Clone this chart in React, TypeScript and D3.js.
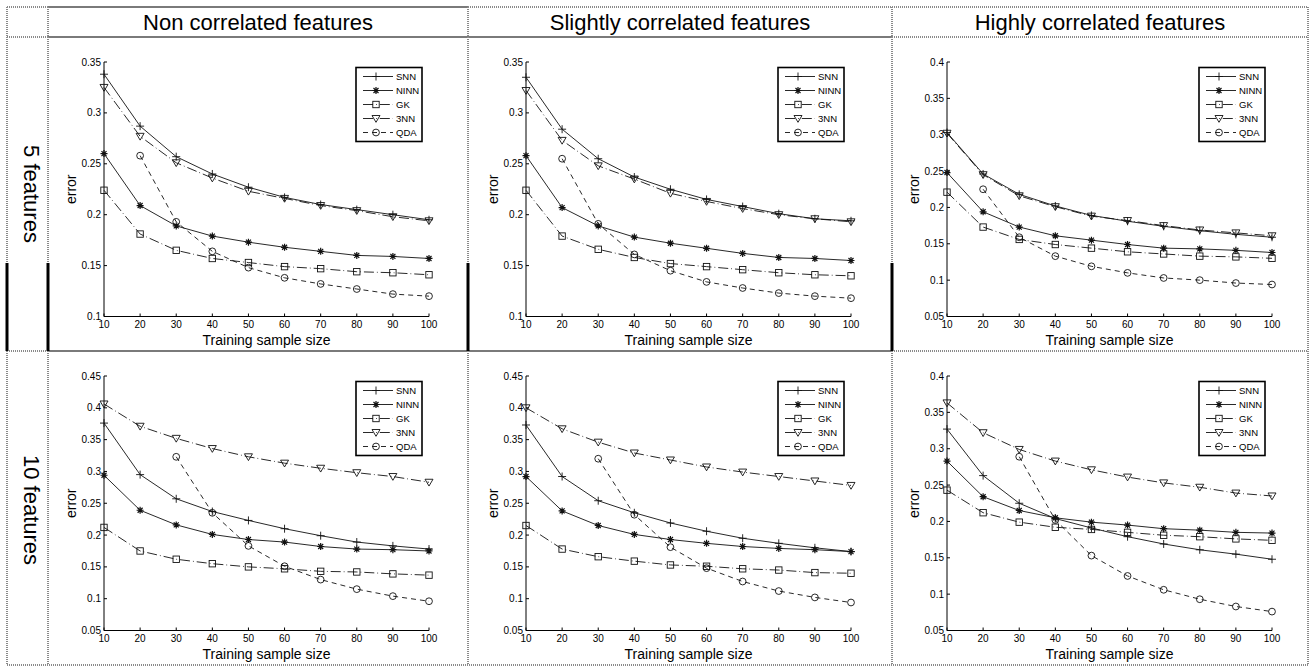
import * as d3 from "d3";
import React, { useEffect } from "react";

// x values shared by every panel
const sampleSizes = [10, 20, 30, 40, 50, 60, 70, 80, 90, 100];
const methods = ["SNN", "NINN", "GK", "3NN", "QDA"];
const columnTitles = ["Non correlated features", "Slightly correlated features", "Highly correlated features"];
const rowTitles = ["5 features", "10 features"];

// error values per panel, rows in the order of `methods`
const err5Non = [
  [0.338, 0.287, 0.257, 0.24, 0.227, 0.217, 0.21, 0.205, 0.2, 0.195],
  [0.26, 0.209, 0.189, 0.179, 0.173, 0.168, 0.164, 0.16, 0.159, 0.157],
  [0.224, 0.181, 0.165, 0.157, 0.153, 0.149, 0.147, 0.144, 0.143, 0.141],
  [0.325, 0.277, 0.251, 0.236, 0.223, 0.216, 0.209, 0.204, 0.198, 0.194],
  [null, 0.258, 0.193, 0.164, 0.148, 0.138, 0.132, 0.127, 0.122, 0.12],
];
const err5Slight = [
  [0.335, 0.284, 0.255, 0.237, 0.225, 0.215, 0.208, 0.201, 0.196, 0.194],
  [0.258, 0.207, 0.189, 0.178, 0.172, 0.167, 0.162, 0.158, 0.157, 0.155],
  [0.224, 0.179, 0.166, 0.158, 0.152, 0.149, 0.146, 0.143, 0.141, 0.14],
  [0.322, 0.273, 0.248, 0.235, 0.221, 0.213, 0.206, 0.2, 0.196, 0.193],
  [null, 0.255, 0.191, 0.161, 0.145, 0.134, 0.128, 0.123, 0.12, 0.118],
];
const err5High = [
  [0.303, 0.246, 0.218, 0.202, 0.189, 0.181, 0.174, 0.168, 0.163, 0.159],
  [0.248, 0.194, 0.173, 0.161, 0.155, 0.149, 0.144, 0.143, 0.141, 0.138],
  [0.221, 0.173, 0.156, 0.149, 0.144, 0.139, 0.136, 0.133, 0.132, 0.13],
  [0.302, 0.245, 0.216, 0.201, 0.188, 0.182, 0.175, 0.169, 0.165, 0.161],
  [null, 0.225, 0.159, 0.133, 0.119, 0.11, 0.103, 0.1, 0.096, 0.094],
];
const err10Non = [
  [0.376, 0.295, 0.257, 0.237, 0.223, 0.21, 0.199, 0.189, 0.183, 0.178],
  [0.294, 0.239, 0.216, 0.201, 0.193, 0.189, 0.182, 0.178, 0.177, 0.175],
  [0.212, 0.175, 0.162, 0.155, 0.15, 0.147, 0.143, 0.142, 0.139, 0.137],
  [0.406, 0.371, 0.352, 0.336, 0.323, 0.313, 0.305, 0.298, 0.292, 0.283],
  [null, null, 0.323, 0.235, 0.183, 0.151, 0.13, 0.115, 0.104, 0.096],
];
const err10Slight = [
  [0.373, 0.292, 0.254, 0.235, 0.219, 0.206, 0.195, 0.187, 0.18, 0.174],
  [0.292, 0.238, 0.215, 0.201, 0.193, 0.187, 0.182, 0.179, 0.177, 0.174],
  [0.215, 0.178, 0.166, 0.159, 0.153, 0.151, 0.147, 0.145, 0.141, 0.14],
  [0.4, 0.367, 0.346, 0.329, 0.318, 0.307, 0.299, 0.292, 0.285, 0.278],
  [null, null, 0.32, 0.232, 0.181, 0.148, 0.127, 0.112, 0.102, 0.094],
];
const err10High = [
  [0.327, 0.263, 0.225, 0.204, 0.191, 0.179, 0.169, 0.161, 0.155, 0.148],
  [0.283, 0.234, 0.215, 0.205, 0.199, 0.195, 0.19, 0.188, 0.185, 0.184],
  [0.243, 0.212, 0.199, 0.192, 0.189, 0.185, 0.181, 0.179, 0.176, 0.174],
  [0.363, 0.322, 0.299, 0.283, 0.271, 0.261, 0.253, 0.247, 0.239, 0.235],
  [null, null, 0.289, 0.202, 0.153, 0.125, 0.106, 0.093, 0.083, 0.076],
];

const panelData = [
  [err5Non, err5Slight, err5High],
  [err10Non, err10Slight, err10High],
];
const yDomains = [
  [[0.1, 0.35], [0.1, 0.35], [0.05, 0.4]],
  [[0.05, 0.45], [0.05, 0.45], [0.05, 0.4]],
];

const FONT = "'Liberation Sans', Arial, sans-serif";
const plotLeft = [104, 526, 947];
const plotTop = [62, 376];
const plotW = 325;
const plotH = 254.5;

const dashes: Record<string, string | undefined> = {
  SNN: undefined,
  NINN: undefined,
  GK: "10,3,0.8,3",
  "3NN": "10,3,0.8,3",
  QDA: "5,4",
};

const fmt = d3.format("~g");

function Marker({ kind, cx, cy }: { kind: string; cx: number; cy: number }) {
  const st = { stroke: "#111", strokeWidth: 0.9, fill: "none" };
  if (kind === "SNN") {
    return <path d={`M${cx - 4},${cy}H${cx + 4}M${cx},${cy - 4}V${cy + 4}`} {...st} />;
  }
  if (kind === "NINN") {
    const a = 3.5, b = 2.5;
    return (
      <path
        d={`M${cx - a},${cy}H${cx + a}M${cx},${cy - a}V${cy + a}M${cx - b},${cy - b}L${cx + b},${cy + b}M${cx - b},${cy + b}L${cx + b},${cy - b}`}
        {...st}
        strokeWidth={1.2}
      />
    );
  }
  if (kind === "GK") return <rect x={cx - 3.2} y={cy - 3.2} width={6.4} height={6.4} {...st} />;
  if (kind === "3NN") {
    return <path d={`M${cx - 4},${cy - 3}L${cx + 4},${cy - 3}L${cx},${cy + 3.8}Z`} {...st} />;
  }
  return <circle cx={cx} cy={cy} r={3.4} {...st} />;
}

function Panel({ row, col }: { row: number; col: number }) {
  const left = plotLeft[col];
  const top = plotTop[row];
  const bottom = top + plotH;
  const right = left + plotW;
  const [lo, hi] = yDomains[row][col];
  const x = d3.scaleLinear().domain([10, 100]).range([left, right]);
  const y = d3.scaleLinear().domain([lo, hi]).range([bottom, top]);
  const yTicks = d3.range(0, Math.round((hi - lo) / 0.05) + 1).map((i) => +(lo + i * 0.05).toFixed(2));
  const series = panelData[row][col];

  const line = d3
    .line<number | null>()
    .defined((d) => d != null)
    .x((_, i) => x(sampleSizes[i]))
    .y((d) => y(d as number));

  const lgX = right - 73;
  const lgY = top + 5.5;

  return (
    <g>
      {/* axes */}
      <line x1={left} y1={top} x2={left} y2={bottom} stroke="#000" strokeWidth={1} />
      <line x1={left} y1={bottom} x2={right} y2={bottom} stroke="#000" strokeWidth={1} />
      {yTicks.map((t) => (
        <g key={t}>
          <line x1={left} x2={left + 3} y1={y(t)} y2={y(t)} stroke="#000" />
          <text x={left - 3} y={y(t)} dy="0.35em" textAnchor="end" fontSize={10} fontFamily={FONT}>
            {fmt(t)}
          </text>
        </g>
      ))}
      {sampleSizes.map((s) => (
        <g key={s}>
          <line x1={x(s)} x2={x(s)} y1={bottom} y2={bottom - 3} stroke="#000" />
          <text x={x(s)} y={bottom + 11.5} textAnchor="middle" fontSize={10} fontFamily={FONT}>
            {s}
          </text>
        </g>
      ))}
      <text
        transform={`translate(${left - 33},${(top + bottom) / 2}) rotate(-90)`}
        textAnchor="middle"
        dy="0.35em"
        fontSize={14}
        fontFamily={FONT}
      >
        error
      </text>
      <text x={(left + right) / 2} y={bottom + 28} textAnchor="middle" fontSize={14} fontFamily={FONT}>
        Training sample size
      </text>

      {/* series */}
      {series.map((vals, k) => (
        <g key={methods[k]}>
          <path d={line(vals) || ""} fill="none" stroke="#111" strokeWidth={0.9} strokeDasharray={dashes[methods[k]]} />
          {vals.map((v, i) =>
            v == null ? null : <Marker key={i} kind={methods[k]} cx={x(sampleSizes[i])} cy={y(v)} />
          )}
        </g>
      ))}

      {/* legend */}
      <rect x={lgX} y={lgY} width={66} height={74} fill="#fff" stroke="#000" strokeWidth={1.6} />
      {methods.map((m, k) => {
        const ly = lgY + 9 + k * 14;
        return (
          <g key={m}>
            <line x1={lgX + 7} x2={lgX + 37} y1={ly} y2={ly} stroke="#111" strokeWidth={0.9} strokeDasharray={dashes[m]} />
            <Marker kind={m} cx={lgX + 20} cy={ly} />
            <text x={lgX + 40} y={ly} dy="0.35em" fontSize={9.5} fontFamily={FONT}>
              {m}
            </text>
          </g>
        );
      })}
    </g>
  );
}

const dotted = { stroke: "#8a8a8a", strokeWidth: 2, strokeDasharray: "1,1" };
const solidGray = { stroke: "#7a7a7a", strokeWidth: 2 };
const thick = { stroke: "#000", strokeWidth: 3 };

function TableGrid() {
  const xs = [7, 48, 468, 892, 1308];
  return (
    <g>
      {/* horizontal rules */}
      <line x1={7} x2={48} y1={7} y2={7} {...dotted} />
      <line x1={48} x2={468} y1={7} y2={7} {...solidGray} />
      <line x1={468} x2={1308} y1={7} y2={7} {...dotted} />
      <line x1={7} x2={48} y1={37} y2={37} {...dotted} />
      <line x1={48} x2={892} y1={37} y2={37} {...solidGray} />
      <line x1={892} x2={1308} y1={37} y2={37} {...dotted} />
      <line x1={7} x2={48} y1={351} y2={351} {...dotted} />
      <line x1={48} x2={892} y1={351} y2={351} {...solidGray} />
      <line x1={892} x2={1308} y1={351} y2={351} {...dotted} />
      <line x1={7} x2={1308} y1={665} y2={665} {...dotted} />
      {/* vertical rules */}
      {xs.map((vx) => (
        <g key={vx}>
          <line x1={vx} x2={vx} y1={7} y2={vx === 1308 ? 351 : 263} {...dotted} />
          {vx !== 1308 && <line x1={vx} x2={vx} y1={263} y2={351} {...thick} />}
          <line x1={vx} x2={vx} y1={351} y2={665} {...dotted} />
        </g>
      ))}
    </g>
  );
}

export default function App() {
  useEffect(() => {
    document.body.style.margin = "0";
  }, []);

  const colCenters = [258, 680, 1100];
  const rowCenters = [194, 510];

  return (
    <svg width={1310} height={667} style={{ display: "block", background: "#fff" }}>
      <rect width={1310} height={667} fill="#fff" />
      <TableGrid />
      {columnTitles.map((t, i) => (
        <text key={t} x={colCenters[i]} y={30} textAnchor="middle" fontSize={22} fontFamily={FONT}>
          {t}
        </text>
      ))}
      {rowTitles.map((t, i) => (
        <text
          key={t}
          transform={`translate(32,${rowCenters[i]}) rotate(90)`}
          textAnchor="middle"
          dy="0.35em"
          fontSize={22}
          fontFamily={FONT}
        >
          {t}
        </text>
      ))}
      {[0, 1].map((r) => [0, 1, 2].map((c) => <Panel key={`${r}-${c}`} row={r} col={c} />))}
    </svg>
  );
}
